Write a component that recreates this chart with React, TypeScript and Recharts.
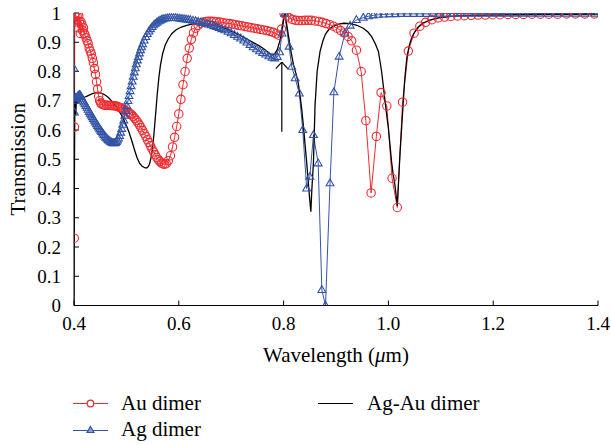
import React from "react";
import { LineChart, Line, XAxis, YAxis, ReferenceLine, Label } from "recharts";

const RED = "#ee2a2e";
const BLUE = "#3354a6";
const BLACK = "#000000";
const FONT = '"Liberation Serif", "Times New Roman", serif';

const X_TICKS = [0.4, 0.6, 0.8, 1.0, 1.2, 1.4];
const Y_TICKS = [0, 0.1, 0.2, 0.3, 0.4, 0.5, 0.6, 0.7, 0.8, 0.9, 1];

// Au dimer: wavelength (um) / transmission
const auWl = [
  0.4005, 0.401, 0.4015, 0.403, 0.4045, 0.406, 0.4075, 0.409, 0.4105,
  0.412, 0.4135, 0.415, 0.4165, 0.418, 0.4195, 0.421, 0.423, 0.425, 0.427,
  0.429, 0.431, 0.433, 0.435, 0.437, 0.439, 0.441, 0.443, 0.445, 0.447,
  0.449, 0.451, 0.453, 0.456, 0.459, 0.462, 0.465, 0.468, 0.471, 0.474,
  0.477, 0.48, 0.483, 0.486, 0.489, 0.492, 0.495, 0.498, 0.501, 0.504,
  0.507, 0.51, 0.513, 0.516, 0.519, 0.522, 0.525, 0.528, 0.531, 0.534,
  0.537, 0.54, 0.543, 0.546, 0.549, 0.552, 0.555, 0.558, 0.561, 0.564,
  0.567, 0.57, 0.573, 0.576, 0.58, 0.584, 0.588, 0.592, 0.596, 0.6,
  0.604, 0.608, 0.612, 0.616, 0.62, 0.624, 0.628, 0.632, 0.637, 0.642,
  0.647, 0.652, 0.657, 0.662, 0.667, 0.672, 0.678, 0.684, 0.69, 0.696,
  0.702, 0.708, 0.714, 0.72, 0.726, 0.732, 0.738, 0.744, 0.75, 0.756,
  0.762, 0.768, 0.774, 0.78, 0.786, 0.791, 0.796, 0.801, 0.806, 0.811,
  0.817, 0.823, 0.829, 0.835, 0.841, 0.847, 0.853, 0.86, 0.867, 0.874,
  0.881, 0.888, 0.895, 0.902, 0.909, 0.916, 0.923, 0.93, 0.939, 0.948,
  0.957, 0.967, 0.977, 0.986, 0.997, 1.007, 1.017, 1.027, 1.038, 1.049,
  1.06, 1.071, 1.083, 1.095, 1.107, 1.119, 1.132, 1.145, 1.158, 1.171,
  1.185, 1.199, 1.213, 1.228, 1.243, 1.258, 1.274, 1.29, 1.306, 1.323,
  1.34, 1.357, 1.375, 1.393,
];
const auT = [
  0.23, 0.61, 0.99, 1.0, 0.97, 0.99, 0.95, 0.99, 0.97,
  0.93, 0.97, 0.96, 0.94, 0.95, 0.93, 0.925, 0.915, 0.905, 0.895,
  0.88, 0.87, 0.86, 0.845, 0.83, 0.81, 0.79, 0.765, 0.74, 0.715,
  0.7, 0.692, 0.688, 0.686, 0.685, 0.685, 0.685, 0.684, 0.684, 0.683,
  0.683, 0.682, 0.68, 0.678, 0.676, 0.673, 0.67, 0.667, 0.663, 0.66,
  0.656, 0.652, 0.646, 0.64, 0.633, 0.625, 0.617, 0.608, 0.598, 0.588,
  0.578, 0.567, 0.557, 0.546, 0.535, 0.525, 0.515, 0.506, 0.498, 0.492,
  0.487, 0.484, 0.483, 0.485, 0.495, 0.512, 0.542, 0.575, 0.612, 0.655,
  0.705, 0.755, 0.8, 0.845, 0.88, 0.91, 0.932, 0.948, 0.958, 0.965,
  0.969, 0.971, 0.972, 0.972, 0.971, 0.97, 0.969, 0.967, 0.965, 0.964,
  0.962, 0.96, 0.958, 0.956, 0.954, 0.952, 0.95, 0.948, 0.946, 0.944,
  0.942, 0.94, 0.937, 0.934, 0.929, 0.924, 0.945, 0.998, 0.99, 0.983,
  0.978, 0.975, 0.974, 0.974, 0.975, 0.975, 0.975, 0.973, 0.971, 0.968,
  0.964, 0.96, 0.955, 0.948, 0.94, 0.932, 0.92, 0.905, 0.873, 0.8,
  0.632, 0.385, 0.578, 0.728, 0.682, 0.435, 0.335, 0.695, 0.87, 0.931,
  0.955, 0.968, 0.977, 0.983, 0.986, 0.988, 0.99, 0.991, 0.992, 0.993,
  0.993, 0.994, 0.994, 0.995, 0.995, 0.995, 0.996, 0.996, 0.996, 0.996,
  0.997, 0.997, 0.997, 0.997,
];

// Ag dimer
const agWl = [
  0.4, 0.4008, 0.4016, 0.403, 0.4045, 0.406, 0.4075, 0.409, 0.4105, 0.412,
  0.4135, 0.415, 0.417, 0.419, 0.421, 0.423, 0.425, 0.427, 0.429, 0.431,
  0.433, 0.435, 0.437, 0.439, 0.441, 0.443, 0.445, 0.447, 0.449, 0.451,
  0.453, 0.455, 0.457, 0.459, 0.461, 0.463, 0.465, 0.467, 0.469, 0.471,
  0.473, 0.475, 0.477, 0.479, 0.481, 0.483, 0.485, 0.487, 0.489, 0.491,
  0.493, 0.495, 0.497, 0.499, 0.501, 0.503, 0.505, 0.507, 0.509, 0.511,
  0.513, 0.515, 0.517, 0.519, 0.521, 0.523, 0.525, 0.527, 0.529, 0.531,
  0.534, 0.537, 0.54, 0.543, 0.546, 0.549, 0.552, 0.555, 0.558, 0.561,
  0.564, 0.567, 0.57, 0.574, 0.578, 0.582, 0.586, 0.59, 0.594, 0.598,
  0.602, 0.606, 0.61, 0.614, 0.618, 0.622, 0.627, 0.632, 0.637, 0.642,
  0.647, 0.652, 0.657, 0.662, 0.667, 0.672, 0.677, 0.682, 0.688, 0.694,
  0.7, 0.706, 0.712, 0.718, 0.724, 0.73, 0.736, 0.742, 0.748, 0.754,
  0.76, 0.766, 0.772, 0.778, 0.783, 0.788, 0.7925, 0.797, 0.802, 0.8105,
  0.8156, 0.822, 0.83, 0.8366, 0.844, 0.85, 0.857, 0.866, 0.873, 0.88,
  0.8886, 0.896, 0.906, 0.917, 0.927, 0.939, 0.952, 0.962, 0.971, 0.981,
  0.991, 1.002, 1.013, 1.024, 1.036, 1.048, 1.06, 1.072, 1.085, 1.098,
  1.111, 1.124, 1.138, 1.152, 1.166, 1.18, 1.195, 1.21, 1.225, 1.24,
  1.256, 1.272, 1.288, 1.305, 1.322, 1.339, 1.357, 1.375, 1.394,
];
const agT = [
  0.81, 0.66, 0.7, 0.71, 0.705, 0.712, 0.715, 0.718, 0.72, 0.718,
  0.713, 0.707, 0.7, 0.694, 0.688, 0.682, 0.676, 0.669, 0.662, 0.656,
  0.65, 0.644, 0.638, 0.632, 0.626, 0.62, 0.614, 0.609, 0.603, 0.598,
  0.593, 0.588, 0.583, 0.578, 0.574, 0.57, 0.566, 0.563, 0.56, 0.558,
  0.556, 0.555, 0.555, 0.556, 0.559, 0.564, 0.571, 0.58, 0.591, 0.604,
  0.618, 0.633, 0.649, 0.665, 0.682, 0.699, 0.716, 0.733, 0.75, 0.766,
  0.782, 0.797, 0.811, 0.825, 0.838, 0.85, 0.862, 0.873, 0.883, 0.893,
  0.906, 0.918, 0.928, 0.937, 0.945, 0.952, 0.958, 0.963, 0.967, 0.971,
  0.974, 0.977, 0.979, 0.981, 0.982, 0.983, 0.983, 0.983, 0.983, 0.982,
  0.981, 0.98, 0.979, 0.978, 0.977, 0.976, 0.974, 0.972, 0.97, 0.968,
  0.966, 0.963, 0.961, 0.958, 0.955, 0.952, 0.949, 0.945, 0.941, 0.936,
  0.931, 0.925, 0.919, 0.913, 0.906, 0.899, 0.891, 0.883, 0.876, 0.869,
  0.863, 0.858, 0.852, 0.847, 0.845, 0.85, 0.866, 0.93, 0.998, 0.885,
  0.816, 0.777, 0.725, 0.6, 0.4, 0.44, 0.583, 0.486, 0.053, 0.0,
  0.418, 0.729, 0.851, 0.93, 0.957, 0.976, 0.984, 0.989, 0.992, 0.994,
  0.995, 0.996, 0.996, 0.997, 0.997, 0.997, 0.997, 0.997, 0.997, 0.998,
  0.998, 0.998, 0.998, 0.998, 0.998, 0.998, 0.998, 0.998, 0.998, 0.998,
  0.998, 0.998, 0.998, 0.998, 0.998, 0.998, 0.998, 0.998, 0.998,
];

// Ag-Au dimer
const agAuWl = [
  0.4, 0.4008, 0.4015, 0.4025, 0.4035, 0.4045, 0.406, 0.408, 0.411, 0.415,
  0.42, 0.425, 0.43, 0.435, 0.44, 0.445, 0.45, 0.455, 0.46, 0.465,
  0.47, 0.475, 0.48, 0.485, 0.49, 0.495, 0.5, 0.505, 0.51, 0.515,
  0.52, 0.525, 0.53, 0.535, 0.538, 0.541, 0.544, 0.547, 0.55, 0.553,
  0.556, 0.559, 0.562, 0.565, 0.569, 0.574, 0.58, 0.587, 0.595, 0.605,
  0.615, 0.625, 0.635, 0.645, 0.655, 0.665, 0.675, 0.685, 0.695, 0.705,
  0.715, 0.725, 0.735, 0.745, 0.755, 0.762, 0.768, 0.773, 0.778, 0.783,
  0.788, 0.793, 0.797, 0.801, 0.803, 0.806, 0.809, 0.814, 0.819, 0.824,
  0.828, 0.832, 0.835, 0.838, 0.841, 0.844, 0.847, 0.85, 0.852, 0.854,
  0.857, 0.86, 0.864, 0.8695, 0.875, 0.88, 0.887, 0.895, 0.905, 0.915,
  0.927, 0.94, 0.952, 0.961, 0.968, 0.975, 0.981, 0.984, 0.987, 0.99,
  0.993, 0.9965, 1.0, 1.003, 1.006, 1.009, 1.0125, 1.017, 1.0195, 1.022,
  1.025, 1.028, 1.031, 1.035, 1.04, 1.044, 1.05, 1.057, 1.065, 1.079,
  1.095, 1.111, 1.13, 1.16, 1.2, 1.25, 1.3, 1.35, 1.4,
];
const agAuT = [
  0.0, 0.45, 0.68, 0.72, 0.65, 0.71, 0.69, 0.7, 0.705, 0.708,
  0.712, 0.716, 0.72, 0.724, 0.727, 0.728, 0.727, 0.724, 0.719, 0.712,
  0.703, 0.693, 0.681, 0.667, 0.652, 0.635, 0.615, 0.592, 0.565, 0.535,
  0.507, 0.487, 0.476, 0.471, 0.47, 0.473, 0.483, 0.505, 0.54, 0.595,
  0.66, 0.725, 0.78, 0.822, 0.86, 0.89, 0.912, 0.93, 0.943, 0.952,
  0.958, 0.962, 0.964, 0.964, 0.963, 0.96, 0.955, 0.949, 0.942, 0.934,
  0.925, 0.916, 0.906, 0.896, 0.886, 0.878, 0.869, 0.861, 0.856, 0.86,
  0.875, 0.905, 0.945, 0.99, 0.995, 0.96, 0.925, 0.87, 0.822, 0.79,
  0.76, 0.71, 0.665, 0.61, 0.549, 0.49, 0.423, 0.36, 0.321, 0.4,
  0.49, 0.685, 0.8, 0.868, 0.905, 0.928, 0.945, 0.955, 0.962, 0.965,
  0.964, 0.958, 0.948, 0.935, 0.919, 0.895, 0.868, 0.835, 0.8, 0.755,
  0.708, 0.655, 0.606, 0.55, 0.492, 0.45, 0.412, 0.34, 0.43, 0.515,
  0.6, 0.685, 0.77, 0.845, 0.89, 0.913, 0.935, 0.952, 0.965, 0.976,
  0.983, 0.987, 0.99, 0.992, 0.993, 0.994, 0.995, 0.995, 0.996,
];

const toPoints = (wl: number[], t: number[]) => wl.map((x, i) => ({ x, y: t[i] }));
const auData = toPoints(auWl, auT);
const agData = toPoints(agWl, agT);
const agAuData = toPoints(agAuWl, agAuT);

function CircleDot(props: any) {
  const { cx, cy, index } = props;
  if (cx == null || cy == null) return <g key={`c${index}`} />;
  return <circle key={`c${index}`} cx={cx} cy={cy} r={4.2} fill="none" stroke={RED} strokeWidth={1.1} />;
}

function TriangleDot(props: any) {
  const { cx, cy, index } = props;
  if (cx == null || cy == null) return <g key={`t${index}`} />;
  const d = `M${cx},${cy - 4.3} L${cx + 3.9},${cy + 2.5} L${cx - 3.9},${cy + 2.5} Z`;
  return <path key={`t${index}`} d={d} fill="none" stroke={BLUE} strokeWidth={1.1} />;
}

const fmtX = (v: number) => v.toFixed(1);
const fmtY = (v: number) => (v === 0 || v === 1 ? String(v) : v.toFixed(1));
const blank = () => "";

const tickStyle = { fill: "#000", fontSize: 19, style: { fontFamily: FONT } };

function Legend() {
  return (
    <svg
      width={611}
      height={445}
      style={{ position: "absolute", left: 0, top: 0, pointerEvents: "none", fontFamily: FONT }}
      fontSize={21}
    >
      <line x1={73} x2={108} y1={403.5} y2={403.5} stroke={RED} strokeWidth={1.2} />
      <circle cx={90.5} cy={403.5} r={3.3} fill="#fff" stroke={RED} strokeWidth={1.2} />
      <text x={121} y={409.5}>Au dimer</text>

      <line x1={73} x2={108} y1={430.5} y2={430.5} stroke={BLUE} strokeWidth={1.2} />
      <path d="M90.5,426.5 L94,432.5 L87,432.5 Z" fill="#8fa0cc" stroke={BLUE} strokeWidth={1.2} />
      <text x={121} y={436}>Ag dimer</text>

      <line x1={318} x2={353} y1={403.5} y2={403.5} stroke={BLACK} strokeWidth={1.2} />
      <text x={367} y={409.5}>Ag-Au dimer</text>
    </svg>
  );
}

export default function App() {
  return (
    <div
      style={{
        position: "absolute",
        left: 0,
        top: 0,
        width: 611,
        height: 445,
        background: "#fff",
        fontFamily: FONT,
      }}
    >
      <LineChart width={611} height={445} margin={{ top: 13, right: 13, left: 0, bottom: 109.5 }} style={{ fontFamily: FONT }}>
        <XAxis
          dataKey="x"
          type="number"
          domain={[0.4, 1.4]}
          ticks={X_TICKS}
          tickFormatter={fmtX}
          allowDataOverflow
          height={30}
          stroke="#000"
          tickSize={-5}
          tickMargin={16}
          tick={tickStyle}
        >
          <Label
            content={(p: any) => {
              const vb = p.viewBox;
              return (
                <text x={vb.x + vb.width / 2} y={vb.y + 56} textAnchor="middle" style={{ fontFamily: FONT }} fontSize={21} fill="#000">
                  Wavelength (<tspan fontStyle="italic">μ</tspan>m)
                </text>
              );
            }}
          />
        </XAxis>
        <XAxis
          xAxisId="top"
          orientation="top"
          dataKey="x"
          type="number"
          domain={[0.4, 1.4]}
          ticks={X_TICKS}
          tickFormatter={blank}
          allowDataOverflow
          height={0}
          stroke="#000"
          tickSize={-5}
        />
        <YAxis
          type="number"
          domain={[0, 1]}
          ticks={Y_TICKS}
          tickFormatter={fmtY}
          allowDataOverflow
          width={74}
          stroke="#000"
          tickSize={-5}
          tickMargin={18}
          tick={tickStyle}
        >
          <Label
            content={(p: any) => {
              const vb = p.viewBox;
              const cx = vb.x + 25;
              const cy = vb.y + vb.height / 2;
              return (
                <text x={cx} y={cy} transform={`rotate(-90 ${cx} ${cy})`} textAnchor="middle" style={{ fontFamily: FONT }} fontSize={21} fill="#000">
                  Transmission
                </text>
              );
            }}
          />
        </YAxis>
        <YAxis
          yAxisId="right"
          orientation="right"
          type="number"
          domain={[0, 1]}
          ticks={Y_TICKS}
          tickFormatter={blank}
          allowDataOverflow
          width={0}
          stroke="#000"
          tickSize={-5}
        />

        <Line data={auData} dataKey="y" type="linear" stroke={RED} strokeWidth={1} dot={CircleDot} isAnimationActive={false} />
        <Line data={agData} dataKey="y" type="linear" stroke={BLUE} strokeWidth={1} dot={TriangleDot} isAnimationActive={false} />
        <Line data={agAuData} dataKey="y" type="linear" stroke={BLACK} strokeWidth={1.3} dot={false} isAnimationActive={false} />

        {/* arrow marking the Ag-Au feature near 0.8 um */}
        <ReferenceLine segment={[{ x: 0.7966, y: 0.594 }, { x: 0.7966, y: 0.832 }]} stroke="#000" strokeWidth={1.2} />
        <ReferenceLine segment={[{ x: 0.785, y: 0.81 }, { x: 0.7966, y: 0.832 }]} stroke="#000" strokeWidth={1.2} />
        <ReferenceLine segment={[{ x: 0.7966, y: 0.832 }, { x: 0.808, y: 0.81 }]} stroke="#000" strokeWidth={1.2} />
      </LineChart>
      <Legend />
    </div>
  );
}
